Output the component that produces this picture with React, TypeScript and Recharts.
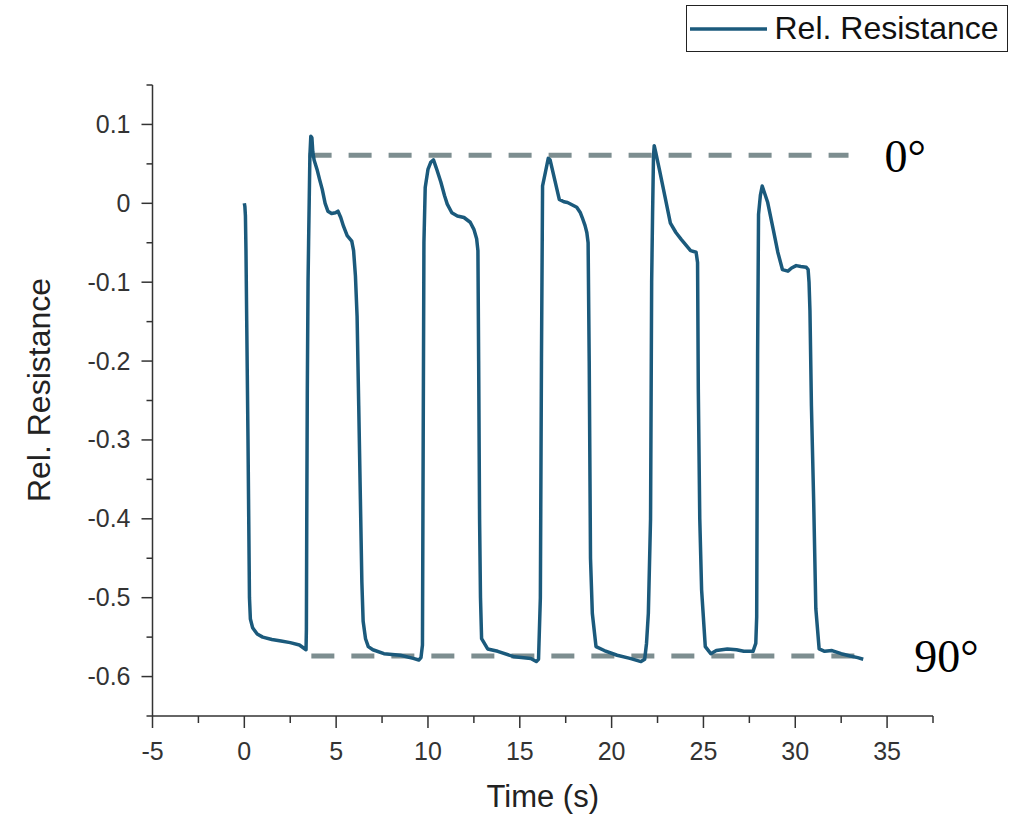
import { LineChart, Line, XAxis, YAxis, ReferenceLine, Legend, Label } from "recharts";

// time (s) and relative resistance
const timeS = [
  0.0, 0.03, 0.06, 0.09, 0.13, 0.2, 0.23, 0.28, 0.33, 0.45, 0.7, 1.0, 1.5, 2.0, 2.5, 3.0,
  3.36, 3.38, 3.4, 3.43, 3.47, 3.5, 3.57, 3.62, 3.68, 3.73, 3.8, 3.96, 4.1, 4.24, 4.4, 4.55,
  4.75, 4.96, 5.1, 5.25, 5.4, 5.6, 5.85, 5.95, 6.05, 6.14, 6.23, 6.32, 6.4, 6.47, 6.6, 6.75,
  7.0, 7.6, 8.5, 9.2, 9.5, 9.62, 9.7, 9.74, 9.78, 9.85, 10.0, 10.15, 10.3, 10.45, 10.7, 10.9,
  11.05, 11.3, 11.6, 11.96, 12.3, 12.5, 12.65, 12.72, 12.76, 12.81, 12.86, 12.92, 13.25, 13.8,
  14.7, 15.6, 15.9, 16.02, 16.12, 16.18, 16.24, 16.4, 16.55, 16.65, 16.9, 17.15, 17.4, 17.6,
  18.1, 18.3, 18.4, 18.55, 18.65, 18.72, 18.78, 18.85, 18.95, 19.15, 19.6, 20.3, 21.0, 21.6,
  21.8, 21.9, 22.0, 22.12, 22.18, 22.23, 22.28, 22.32, 22.4, 22.6, 22.9, 23.2, 23.5, 23.8,
  24.3, 24.6, 24.68, 24.72, 24.8, 24.9, 25.1, 25.4, 25.7, 26.3, 26.8, 27.2, 27.7, 27.85, 27.9,
  27.95, 28.0, 28.1, 28.2, 28.3, 28.5, 28.8, 29.05, 29.3, 29.6, 29.8, 30.05, 30.3, 30.6, 30.7,
  30.75, 30.8, 30.88, 31.0, 31.12, 31.3, 31.6, 32.0, 32.5, 33.0, 33.4, 33.7,
];
const relResistance = [
  0.0, -0.004, -0.016, -0.06, -0.149, -0.3, -0.375, -0.5, -0.527, -0.538, -0.546, -0.55, -0.553, -0.555, -0.557, -0.56,
  -0.566, -0.54, -0.4, -0.235, -0.1, -0.05, 0.06, 0.085, 0.083, 0.065, 0.055, 0.043, 0.03, 0.018, 0.0, -0.01,
  -0.013, -0.012, -0.01, -0.018, -0.029, -0.041, -0.048, -0.06, -0.092, -0.143, -0.257, -0.375, -0.48, -0.53, -0.552, -0.562,
  -0.566, -0.571, -0.573, -0.577, -0.579, -0.576, -0.56, -0.3, -0.05, 0.02, 0.043, 0.052, 0.055, 0.045, 0.027, 0.01,
  -0.001, -0.012, -0.016, -0.018, -0.024, -0.033, -0.045, -0.06, -0.2, -0.4, -0.5, -0.552, -0.565, -0.568,
  -0.575, -0.577, -0.581, -0.578, -0.5, -0.2, 0.022, 0.04, 0.057, 0.055, 0.03, 0.005, 0.002, 0.001,
  -0.005, -0.012, -0.018, -0.028, -0.037, -0.05, -0.2, -0.45, -0.52, -0.562, -0.567, -0.573, -0.577, -0.581,
  -0.578, -0.558, -0.52, -0.4, -0.1, -0.014, 0.06, 0.073, 0.065, 0.043, 0.009, -0.025, -0.037, -0.046,
  -0.06, -0.062, -0.075, -0.235, -0.4, -0.49, -0.562, -0.571, -0.567, -0.565, -0.566, -0.568, -0.568, -0.558, -0.524,
  -0.19, -0.014, 0.01, 0.022, 0.015, 0.001, -0.033, -0.062, -0.084, -0.086, -0.082, -0.079, -0.08, -0.081, -0.084,
  -0.1, -0.136, -0.257, -0.375, -0.514, -0.565, -0.568, -0.567, -0.571, -0.574, -0.576, -0.578,
];

const xTicks = [-5, -2.5, 0, 2.5, 5, 7.5, 10, 12.5, 15, 17.5, 20, 22.5, 25, 27.5, 30, 32.5, 35, 37.5];
const yTicks = [
  -0.65, -0.6, -0.55, -0.5, -0.45, -0.4, -0.35, -0.3, -0.25, -0.2, -0.15, -0.1, -0.05, 0, 0.05, 0.1, 0.15,
];

// dashed guide levels (0° and 90° positions)
const level0 = 0.061;
const level0From = 3.5;
const level0To = 32.9;
const level90 = -0.574;
const level90From = 3.65;
const level90To = 33.7;

const data = timeS.map((t, i) => ({ t, r: relResistance[i] }));

const FONT = "'Liberation Sans', Arial, sans-serif";
const SERIF = "'Liberation Serif', 'Times New Roman', serif";
const AXIS = "#333";
const LINE = "#1b5a7c";
const GUIDE = "#7d8e90";

function isMajor(v: number, step: number) {
  return Math.abs(v / step - Math.round(v / step)) < 1e-6;
}

function XTick({ x, y, payload }: any) {
  const v = payload.value;
  const major = isMajor(v, 5);
  return (
    <g>
      <line x1={x} y1={y} x2={x} y2={y + (major ? 12 : 7)} stroke={AXIS} strokeWidth={1.5} />
      {major && (
        <text x={x} y={y + 44} textAnchor="middle" fontSize={25} fontFamily={FONT} fill="#333">
          {v}
        </text>
      )}
    </g>
  );
}

function YTick({ x, y, payload }: any) {
  const v = payload.value;
  const major = isMajor(v, 0.1);
  const label = Math.abs(v) < 1e-9 ? "0" : String(Math.round(v * 10) / 10);
  return (
    <g>
      <line x1={x} y1={y} x2={x - (major ? 11 : 6)} y2={y} stroke={AXIS} strokeWidth={1.5} />
      {major && (
        <text x={x - 22} y={y + 8.5} textAnchor="end" fontSize={25} fontFamily={FONT} fill="#333">
          {label}
        </text>
      )}
    </g>
  );
}

function LegendBox({ payload }: any) {
  const item = payload && payload[0];
  if (!item) return null;
  return (
    <div
      style={{
        boxSizing: "border-box",
        width: 322,
        height: 47,
        border: "1.5px solid #222",
        background: "#fff",
        display: "flex",
        alignItems: "center",
        fontFamily: FONT,
        fontSize: 32,
        color: "#111",
      }}
    >
      <svg width={77} height={10} style={{ marginLeft: 2.5 }}>
        <line x1={0} y1={5} x2={77} y2={5} stroke={LINE} strokeWidth={3.5} />
      </svg>
      <span style={{ marginLeft: 8, whiteSpace: "nowrap" }}>{item.value}</span>
    </div>
  );
}

export default function App() {
  return (
    <div style={{ position: "absolute", left: 0, top: 0, background: "#fff" }}>
      <LineChart width={1010} height={817} data={data} margin={{ top: 85, right: 77, bottom: 41, left: 72.5 }}>
        <XAxis
          dataKey="t"
          type="number"
          domain={[-5, 37.5]}
          ticks={xTicks}
          interval={0}
          tickSize={0}
          tickMargin={0}
          tickLine={false}
          tick={<XTick />}
          stroke={AXIS}
          strokeWidth={1.5}
          height={60}
          allowDataOverflow
        >
          <Label
            content={({ viewBox }: any) => (
              <text
                x={viewBox.x + viewBox.width / 2}
                y={viewBox.y + 91}
                textAnchor="middle"
                fontSize={31}
                fontFamily={FONT}
                fill="#222"
              >
                Time (s)
              </text>
            )}
          />
        </XAxis>
        <YAxis
          type="number"
          domain={[-0.65, 0.15]}
          ticks={yTicks}
          interval={0}
          tickSize={0}
          tickMargin={0}
          tickLine={false}
          tick={<YTick />}
          stroke={AXIS}
          strokeWidth={1.5}
          width={80}
          allowDataOverflow
        >
          <Label
            content={() => (
              <text
                x={50}
                y={390}
                transform="rotate(-90 50 390)"
                textAnchor="middle"
                fontSize={32}
                fontFamily={FONT}
                fill="#222"
              >
                Rel. Resistance
              </text>
            )}
          />
        </YAxis>
        <Legend
          layout="vertical"
          align="center"
          verticalAlign="middle"
          wrapperStyle={{ top: 5, left: 686, width: 322, height: 47 }}
          content={<LegendBox />}
        />
        <ReferenceLine
          segment={[
            { x: level0From, y: level0 },
            { x: level0To, y: level0 },
          ]}
          stroke={GUIDE}
          strokeWidth={5}
          strokeDasharray="23 17"
          label={{ value: "0°", position: "right", offset: 36, fontSize: 46, fontFamily: SERIF, fill: "#000" }}
        />
        <ReferenceLine
          segment={[
            { x: level90From, y: level90 },
            { x: level90To, y: level90 },
          ]}
          stroke={GUIDE}
          strokeWidth={5}
          strokeDasharray="23 17"
          label={{ value: "90°", position: "right", offset: 51, fontSize: 46, fontFamily: SERIF, fill: "#000" }}
        />
        <Line
          type="linear"
          dataKey="r"
          name="Rel. Resistance"
          stroke={LINE}
          strokeWidth={3.5}
          strokeLinejoin="round"
          dot={false}
          activeDot={false}
          isAnimationActive={false}
        />
      </LineChart>
    </div>
  );
}
